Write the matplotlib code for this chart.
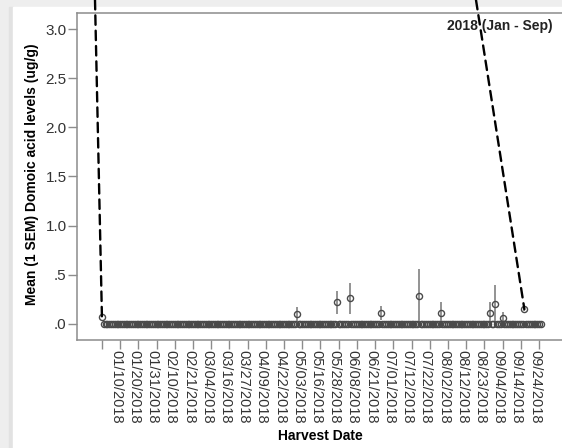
import numpy as np
import matplotlib
matplotlib.use("Agg")
import matplotlib.pyplot as plt
import matplotlib.transforms as mtransforms
from matplotlib.patches import Rectangle, ConnectionPatch

plt.rcParams['font.family'] = ['Liberation Sans', 'DejaVu Sans']

# harvest dates are categories; a tick every 10th date
n_dates = 242
tick_step = 10
tick_labels = ['', '01/10/2018', '01/20/2018', '01/31/2018', '02/10/2018',
               '02/21/2018', '03/04/2018', '03/16/2018', '03/27/2018',
               '04/09/2018', '04/22/2018', '05/03/2018', '05/16/2018',
               '05/28/2018', '06/08/2018', '06/21/2018', '07/01/2018',
               '07/12/2018', '07/22/2018', '08/02/2018', '08/12/2018',
               '08/23/2018', '09/04/2018', '09/14/2018', '09/24/2018']

# dates with detectable domoic acid (category index, mean, 1 SEM)
pos_idx = [0, 107, 129, 136, 153, 174, 186, 213, 216, 220, 232]
pos_mean = [0.07, 0.10, 0.22, 0.26, 0.11, 0.28, 0.11, 0.11, 0.20, 0.065, 0.15]
pos_sem = [0.0, 0.07, 0.12, 0.155, 0.07, 0.28, 0.11, 0.11, 0.20, 0.06, 0.02]

yticks = [0.0, 0.5, 1.0, 1.5, 2.0, 2.5, 3.0]
ytick_labels = ['.0', '.5', '1.0', '1.5', '2.0', '2.5', '3.0']

means = np.zeros(n_dates)
sems = np.zeros(n_dates)
means[pos_idx] = pos_mean
sems[pos_idx] = pos_sem
x = np.arange(n_dates)

fig = plt.figure(figsize=(5.62, 4.48), dpi=100)
fig.patch.set_facecolor('#eeeeee')
# white page with a faint shadow on the left
fig.patches.append(Rectangle((9 / 562, 0), 4 / 562, 1 - 7 / 448,
                             transform=fig.transFigure, color='#e2e2e2', zorder=-10))
fig.patches.append(Rectangle((13 / 562, 0), 1, 1 - 7 / 448,
                             transform=fig.transFigure, color='white', zorder=-10))

ax = fig.add_axes([77 / 562, 108 / 448, 486 / 562, 327.3 / 448])
ax.set_facecolor('white')

has_val = means > 0
ax.errorbar(x[has_val], means[has_val], yerr=sems[has_val], fmt='none',
            ecolor='#808080', elinewidth=1.2, capsize=0, zorder=2)
ax.plot(x, means, 'o', ls='none', markersize=4.4, markerfacecolor='none',
        markeredgecolor='#4a4a4a', markeredgewidth=1.0, zorder=3)

ax.set_xlim(-13.7, 253.2)
ax.set_ylim(-0.163, 3.166)
ax.set_yticks(yticks)
ax.set_yticklabels(ytick_labels)
ax.set_xticks(np.arange(len(tick_labels)) * tick_step)
ax.set_xticklabels(tick_labels, rotation=-90, va='top', ha='center')

for side in ['left', 'bottom', 'top']:
    ax.spines[side].set_color('#8c8c8c')
    ax.spines[side].set_linewidth(1.1)
ax.spines['right'].set_visible(False)
ax.tick_params(axis='both', colors='#8c8c8c', length=6.5, width=1.0, pad=1,
               labelsize=10.5, labelcolor='#333333')
ax.tick_params(axis='y', labelsize=11)

# nudge the rotated date labels so they sit centred under their ticks
shift = mtransforms.ScaledTranslation(-4 / 100, 0, fig.dpi_scale_trans)
for lbl in ax.get_xticklabels():
    lbl.set_transform(lbl.get_transform() + shift)

fig.text(32.5 / 562, 1 - 174 / 448, 'Mean (1 SEM) Domoic acid levels (ug/g)',
         rotation=90, ha='center', va='center', fontsize=10, fontweight='bold')
fig.text(320 / 562, 1 - 436 / 448, 'Harvest Date', ha='center', va='center',
         fontsize=10, fontweight='bold')
fig.text(553 / 562, 1 - 26 / 448, '2018 (Jan - Sep)', ha='right', va='center',
         fontsize=10, fontweight='bold', color='#222222', zorder=5)

# callout lines to the first and last dates
for fx, idx in [(95 / 562, 0), (476 / 562, 232)]:
    con = ConnectionPatch(xyA=(fx, 1.0), coordsA='figure fraction',
                          xyB=(idx, means[idx]), coordsB='data', axesB=ax,
                          color='black', lw=1.7, linestyle=(0, (4, 2.5)), zorder=6)
    fig.add_artist(con)

fig.savefig('out.png', dpi=100)
